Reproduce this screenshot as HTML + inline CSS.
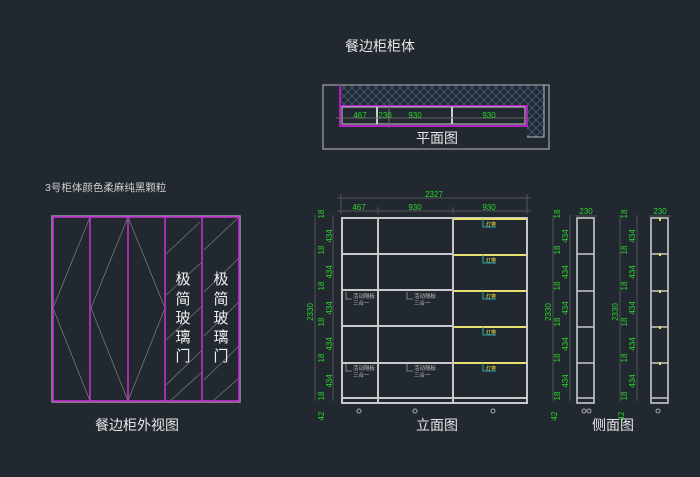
<!DOCTYPE html>
<html><head><meta charset="utf-8"><style>
html,body{margin:0;padding:0;background:#212830;}
svg{display:block}
text{font-family:"Liberation Sans","Noto Sans CJK SC",sans-serif;}
.g{fill:#2bd62b;font-size:8px;font-family:"Liberation Sans Narrow","Liberation Sans",sans-serif}
</style></head><body>
<svg width="700" height="477" viewBox="0 0 700 477" xmlns="http://www.w3.org/2000/svg">
<defs>
<pattern id="hx" width="8" height="8" patternUnits="userSpaceOnUse">
<path d="M0 0L8 8M8 0L0 8" stroke="#4a6a8a" stroke-width="0.7"/>
</pattern>
</defs>
<rect width="700" height="477" fill="#212830"/>

<!-- Titles -->
<text x="380" y="51" fill="#e6e6e6" font-size="14" text-anchor="middle">餐边柜柜体</text>
<text x="45" y="191" fill="#cfcfcf" font-size="10.5">3号柜体颜色柔麻纯黑颗粒</text>

<!-- Plan view -->
<rect x="323" y="85" width="226" height="64" fill="none" stroke="#bbb" stroke-width="1"/>
<path d="M340 85H544V137H527V106H340Z" fill="url(#hx)"/>
<path d="M544 85V137H527" fill="none" stroke="#bbb" stroke-width="1"/>
<rect x="340" y="106" width="187" height="20" fill="none" stroke="#b020c0" stroke-width="2"/>
<line x1="340" y1="85" x2="340" y2="106" stroke="#b020c0" stroke-width="2"/>
<rect x="342" y="107" width="183" height="17" fill="none" stroke="#ccc" stroke-width="1"/>
<line x1="377" y1="107" x2="377" y2="124" stroke="#ccc" stroke-width="2"/>
<line x1="452" y1="107" x2="452" y2="124" stroke="#ccc" stroke-width="2"/>
<line x1="336" y1="118" x2="530" y2="118" stroke="#666" stroke-width="1"/>
<line x1="389" y1="100" x2="389" y2="128" stroke="#666" stroke-width="1"/>
<text class="g" x="360" y="118" text-anchor="middle">467</text>
<text class="g" x="385" y="118" text-anchor="middle" font-size="7">230</text>
<text class="g" x="415" y="118" text-anchor="middle">930</text>
<text class="g" x="489" y="118" text-anchor="middle">930</text>
<text x="437" y="143" fill="#e6e6e6" font-size="14" text-anchor="middle">平面图</text>

<!-- Outside view -->
<rect x="52" y="216" width="188" height="186" fill="none" stroke="#999" stroke-width="1.5"/>
<g stroke="#777" stroke-width="0.8" fill="none">
<path d="M90 217L53 308L90 401"/>
<path d="M128 217L91 308L128 401"/>
<path d="M128 217L165 308L128 401"/>
<path d="M166 254L200 222M166 295L202 262M166 340L202 306M166 385L202 350M170 401L202 372"/>
<path d="M204 250L239 217M204 292L239 258M204 336L239 302M204 380L239 346M214 400L239 378"/>
</g>
<g stroke="#c030d0" stroke-width="1.6" fill="none">
<rect x="53" y="217" width="186" height="184"/>
<line x1="90" y1="217" x2="90" y2="401"/>
<line x1="128" y1="217" x2="128" y2="401"/>
<line x1="165" y1="217" x2="165" y2="401"/>
<line x1="202" y1="217" x2="202" y2="401"/>
</g>
<g fill="#eee" font-size="15" text-anchor="middle">
<text x="183" y="284">极</text><text x="183" y="304">简</text><text x="183" y="323">玻</text><text x="183" y="342">璃</text><text x="183" y="361">门</text>
<text x="221" y="284">极</text><text x="221" y="304">简</text><text x="221" y="323">玻</text><text x="221" y="342">璃</text><text x="221" y="361">门</text>
</g>
<text x="137" y="430" fill="#e6e6e6" font-size="14" text-anchor="middle">餐边柜外视图</text>

<!-- Elevation -->
<g stroke="#555" stroke-width="1">
<line x1="337" y1="198" x2="531" y2="198"/>
<line x1="337" y1="211" x2="531" y2="211"/>
<line x1="341" y1="194" x2="341" y2="214"/><line x1="527" y1="194" x2="527" y2="214"/>
<line x1="378" y1="207" x2="378" y2="214"/><line x1="453" y1="207" x2="453" y2="214"/>
<line x1="315" y1="215" x2="315" y2="401"/>
<line x1="333" y1="215" x2="333" y2="401"/>
</g>
<text class="g" x="434" y="197" text-anchor="middle">2327</text>
<text class="g" x="359" y="210" text-anchor="middle">467</text>
<text class="g" x="415" y="210" text-anchor="middle">930</text>
<text class="g" x="489" y="210" text-anchor="middle">930</text>
<g class="g">
<text transform="translate(313,312) rotate(-90)" text-anchor="middle">2330</text>
<text transform="translate(324,214) rotate(-90)" text-anchor="middle">18</text>
<text transform="translate(332,236) rotate(-90)" text-anchor="middle">434</text>
<text transform="translate(324,250) rotate(-90)" text-anchor="middle">18</text>
<text transform="translate(332,272) rotate(-90)" text-anchor="middle">434</text>
<text transform="translate(324,286) rotate(-90)" text-anchor="middle">18</text>
<text transform="translate(332,308) rotate(-90)" text-anchor="middle">434</text>
<text transform="translate(324,322) rotate(-90)" text-anchor="middle">18</text>
<text transform="translate(332,344) rotate(-90)" text-anchor="middle">434</text>
<text transform="translate(324,358) rotate(-90)" text-anchor="middle">18</text>
<text transform="translate(332,381) rotate(-90)" text-anchor="middle">434</text>
<text transform="translate(324,396) rotate(-90)" text-anchor="middle">18</text>
<text transform="translate(324,416) rotate(-90)" text-anchor="middle">42</text>
</g>
<g fill="none" stroke="#c8c8c8" stroke-width="2">
<rect x="342" y="218" width="185" height="185"/>
<line x1="378" y1="218" x2="378" y2="403"/>
<line x1="453" y1="218" x2="453" y2="403"/>
<line x1="342" y1="254" x2="453" y2="254"/>
<line x1="342" y1="290" x2="453" y2="290"/>
<line x1="342" y1="326" x2="453" y2="326"/>
<line x1="342" y1="363" x2="453" y2="363"/>
<line x1="342" y1="398" x2="527" y2="398"/>
</g>
<g stroke="#e8e070" stroke-width="2">
<line x1="454" y1="219" x2="526" y2="219"/>
<line x1="454" y1="255" x2="526" y2="255"/>
<line x1="454" y1="291" x2="526" y2="291"/>
<line x1="454" y1="327" x2="526" y2="327"/>
<line x1="454" y1="363" x2="526" y2="363"/>
</g>
<g stroke="#2bb0b0" stroke-width="1" fill="none">
<path d="M483 219V227H496"/><path d="M483 255V263H496"/><path d="M483 291V299H496"/><path d="M483 327V335H496"/><path d="M483 363V371H496"/>
</g>
<g fill="#e8e040" font-size="5">
<text x="486" y="226">灯带</text><text x="486" y="262">灯带</text><text x="486" y="298">灯带</text><text x="486" y="334">灯带</text><text x="486" y="370">灯带</text>
</g>
<g stroke="#999" stroke-width="0.8" fill="none">
<path d="M346 292V299H352"/><path d="M407 292V299H413"/><path d="M346 364V371H352"/><path d="M407 364V371H413"/>
</g>
<g fill="#bbb" font-size="5.5">
<text x="353" y="298">活动隔板</text><text x="353" y="305">三合一</text>
<text x="414" y="298">活动隔板</text><text x="414" y="305">三合一</text>
<text x="353" y="370">活动隔板</text><text x="353" y="377">三合一</text>
<text x="414" y="370">活动隔板</text><text x="414" y="377">三合一</text>
</g>
<g fill="none" stroke="#aaa" stroke-width="1">
<circle cx="359" cy="411" r="2"/><circle cx="415" cy="411" r="2"/><circle cx="493" cy="411" r="2"/>
</g>
<text x="437" y="430" fill="#e6e6e6" font-size="14" text-anchor="middle">立面图</text>

<!-- Side views -->
<g stroke="#555" stroke-width="1">
<line x1="553" y1="215" x2="553" y2="401"/><line x1="570" y1="215" x2="570" y2="401"/>
<line x1="620" y1="215" x2="620" y2="401"/><line x1="637" y1="215" x2="637" y2="401"/>
<line x1="575" y1="216" x2="597" y2="216"/><line x1="649" y1="216" x2="671" y2="216"/>
</g>
<text class="g" x="586" y="214" text-anchor="middle">230</text>
<text class="g" x="660" y="214" text-anchor="middle">230</text>
<g class="g">
<text transform="translate(551,312) rotate(-90)" text-anchor="middle">2330</text>
<text transform="translate(560,214) rotate(-90)" text-anchor="middle">18</text>
<text transform="translate(568,236) rotate(-90)" text-anchor="middle">434</text>
<text transform="translate(560,250) rotate(-90)" text-anchor="middle">18</text>
<text transform="translate(568,272) rotate(-90)" text-anchor="middle">434</text>
<text transform="translate(560,286) rotate(-90)" text-anchor="middle">18</text>
<text transform="translate(568,308) rotate(-90)" text-anchor="middle">434</text>
<text transform="translate(560,322) rotate(-90)" text-anchor="middle">18</text>
<text transform="translate(568,344) rotate(-90)" text-anchor="middle">434</text>
<text transform="translate(560,358) rotate(-90)" text-anchor="middle">18</text>
<text transform="translate(568,381) rotate(-90)" text-anchor="middle">434</text>
<text transform="translate(560,396) rotate(-90)" text-anchor="middle">18</text>
<text transform="translate(557,416) rotate(-90)" text-anchor="middle">42</text>
<text transform="translate(618,312) rotate(-90)" text-anchor="middle">2330</text>
<text transform="translate(627,214) rotate(-90)" text-anchor="middle">18</text>
<text transform="translate(635,236) rotate(-90)" text-anchor="middle">434</text>
<text transform="translate(627,250) rotate(-90)" text-anchor="middle">18</text>
<text transform="translate(635,272) rotate(-90)" text-anchor="middle">434</text>
<text transform="translate(627,286) rotate(-90)" text-anchor="middle">18</text>
<text transform="translate(635,308) rotate(-90)" text-anchor="middle">434</text>
<text transform="translate(627,322) rotate(-90)" text-anchor="middle">18</text>
<text transform="translate(635,344) rotate(-90)" text-anchor="middle">434</text>
<text transform="translate(627,358) rotate(-90)" text-anchor="middle">18</text>
<text transform="translate(635,381) rotate(-90)" text-anchor="middle">434</text>
<text transform="translate(627,396) rotate(-90)" text-anchor="middle">18</text>
<text transform="translate(624,416) rotate(-90)" text-anchor="middle">42</text>
</g>
<g fill="none" stroke="#c8c8c8" stroke-width="1.6">
<rect x="577" y="218" width="17" height="185"/>
<line x1="577" y1="254" x2="594" y2="254"/><line x1="577" y1="291" x2="594" y2="291"/>
<line x1="577" y1="327" x2="594" y2="327"/><line x1="577" y1="363" x2="594" y2="363"/>
<line x1="577" y1="398" x2="594" y2="398"/>
<rect x="651" y="218" width="17" height="185"/>
<line x1="651" y1="254" x2="668" y2="254"/><line x1="651" y1="291" x2="668" y2="291"/>
<line x1="651" y1="327" x2="668" y2="327"/><line x1="651" y1="363" x2="668" y2="363"/>
<line x1="651" y1="398" x2="668" y2="398"/>
</g>
<g fill="#e8e040">
<rect x="659" y="218" width="2" height="3"/><rect x="659" y="253" width="2" height="3"/><rect x="659" y="290" width="2" height="3"/><rect x="659" y="326" width="2" height="3"/><rect x="659" y="362" width="2" height="3"/>
</g>
<g fill="none" stroke="#aaa" stroke-width="1">
<circle cx="584" cy="411" r="2"/><circle cx="589" cy="411" r="2"/><circle cx="658" cy="411" r="2"/>
</g>
<text x="613" y="430" fill="#e6e6e6" font-size="14" text-anchor="middle">侧面图</text>
</svg>
</body></html>
